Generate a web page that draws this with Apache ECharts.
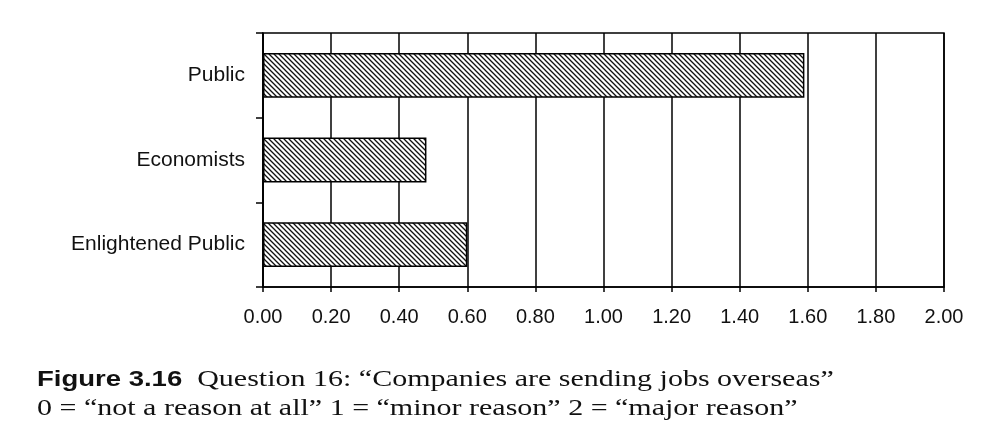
<!DOCTYPE html>
<html><head><meta charset="utf-8">
<script src="https://cdn.jsdelivr.net/npm/echarts@6/dist/echarts.min.js"></script>
<style>html,body{margin:0;padding:0;background:#fff}#c{width:982px;height:448px}</style>
</head><body><div id="c"></div>
<script>
var categories = ['Public', 'Economists', 'Enlightened Public'];
var values = [1.59, 0.48, 0.60];
var tickLabels = ['0.00','0.20','0.40','0.60','0.80','1.00','1.20','1.40','1.60','1.80','2.00'];
var captionBold = 'Figure 3.16';
var captionLine1 = 'Question 16: \u201cCompanies are sending jobs overseas\u201d';
var captionLine2 = '0 = \u201cnot a reason at all\u201d 1 = \u201cminor reason\u201d 2 = \u201cmajor reason\u201d';

function hatch() {
  var s = 5;
  var c = document.createElement('canvas');
  c.width = s; c.height = s;
  var g = c.getContext('2d');
  g.fillStyle = '#fff'; g.fillRect(0,0,s,s);
  g.strokeStyle = '#111'; g.lineWidth = 1.3;
  g.beginPath();
  g.moveTo(-1,-1); g.lineTo(s+1,s+1);
  g.moveTo(-1,s-1); g.lineTo(1,s+1);
  g.moveTo(s-1,-1); g.lineTo(s+1,1);
  g.stroke();
  return c;
}

var chart = echarts.init(document.getElementById('c'), null, {renderer:'canvas'});
chart.setOption({
  animation: false,
  backgroundColor: '#fff',
  grid: {left: 263, right: 38, top: 33, bottom: 161, show: true, borderColor: '#000', borderWidth: 1.5, containLabel: false},
  xAxis: {
    type: 'value', min: 0, max: 2, interval: 0.2,
    axisLine: {show: true, lineStyle: {color: '#000', width: 1.5}},
    axisTick: {show: true, length: 5, lineStyle: {color: '#000', width: 1.5}},
    splitLine: {show: true, lineStyle: {color: '#000', width: 1.5}},
    axisLabel: {margin: 20, color: '#111', fontFamily: 'Liberation Sans', fontSize: 20,
      formatter: function(v){ return tickLabels[Math.round(v/0.2)]; }}
  },
  yAxis: {
    type: 'category', data: categories, inverse: true,
    axisLine: {show: true, lineStyle: {color: '#000', width: 1.5}},
    axisTick: {show: true, length: 7, alignWithLabel: false, lineStyle: {color: '#000', width: 1.5}},
    axisLabel: {margin: 18, color: '#111', fontFamily: 'Liberation Sans', fontSize: 21}
  },
  series: [{
    type: 'bar', data: values, barWidth: '53%',
    itemStyle: {color: {image: hatch(), repeat: 'repeat'}, borderColor: '#000', borderWidth: 1.5}
  }],
  graphic: [
    {type: 'text', x: 37, y: 368, scaleX: 1.25, style: {
      text: '{b|' + captionBold + '}{s|  ' + captionLine1 + '}',
      rich: {
        b: {fontFamily: 'Liberation Sans', fontWeight: 'bold', fontSize: 22, fill: '#111'},
        s: {fontFamily: 'Liberation Serif', fontSize: 24, fill: '#111'}
      }}},
    {type: 'text', x: 37, y: 397, scaleX: 1.25, style: {
      text: captionLine2, fontFamily: 'Liberation Serif', fontSize: 24, fill: '#111'}}
  ]
});
</script></body></html>
